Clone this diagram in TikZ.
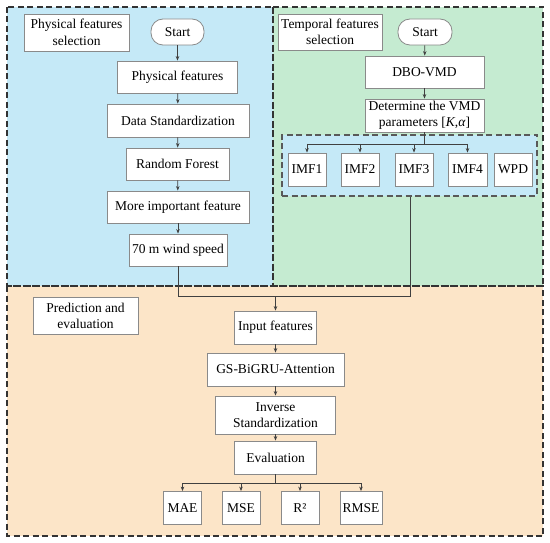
\documentclass[tikz,border=0pt]{standalone}
\usepackage{fontspec}
\setmainfont{Liberation Serif}
\usetikzlibrary{arrows.meta}
\definecolor{bluebg}{HTML}{C5E9F7}
\definecolor{greenbg}{HTML}{C5EBD1}
\definecolor{orangebg}{HTML}{FCE5C8}
\definecolor{boxline}{HTML}{8A8A8A}
\definecolor{conn}{HTML}{404040}
\tikzset{
  box/.style={draw=boxline, fill=white, line width=0.8pt, inner sep=1pt, align=center,
    font=\fontsize{13.5}{16.5}\selectfont},
  startbox/.style={box, rounded corners=12pt},
  region/.style={draw=black!80, dash pattern=on 6pt off 3.5pt, line width=1.1pt},
  innerregion/.style={draw=black!65, fill=bluebg, dash pattern=on 6pt off 3.5pt, line width=1.1pt, inner sep=0pt},
  cline/.style={draw=conn, line width=0.7pt},
  arr/.style={cline, -{Stealth[length=4.5pt,width=3.5pt]}}
}
\begin{document}
\begin{tikzpicture}[x=1pt,y=-1pt]
\useasboundingbox (0,0) rectangle (550,543);
% region fills
\fill[bluebg] (7,7) rectangle (273,286);
\fill[greenbg] (273,7) rectangle (543,286);
\fill[orangebg] (7,286) rectangle (543,536);
\draw[region] (7,7) rectangle (273,286);
\draw[region] (273,7) rectangle (543,286);
\draw[region] (7,286) rectangle (543,536);

% physical features
\node[box, minimum width=105pt, minimum height=37pt] (pfs) at (76.5,32.5) {Physical features\\selection};
\node[startbox, minimum width=53pt, minimum height=26pt] (startA) at (177.5,32) {Start};
\node[box, minimum width=120pt, minimum height=32pt] (pf) at (177.5,77) {Physical features};
\node[box, minimum width=142pt, minimum height=33pt] (ds) at (178,120.5) {Data Standardization};
\node[box, minimum width=103pt, minimum height=32pt] (rf) at (177.5,164) {Random Forest};
\node[box, minimum width=142pt, minimum height=32pt] (mif) at (178,207) {More important feature};
\node[box, minimum width=98pt, minimum height=32pt] (ws) at (178,250) {70 m wind speed};

\draw[arr] (startA) -- (pf);
\draw[arr] (pf) -- (ds);
\draw[arr] (ds) -- (rf);
\draw[arr] (rf) -- (mif);
\draw[arr] (mif) -- (ws);

% temporal features
\node[box, minimum width=104pt, minimum height=36pt] (tfs) at (330,32) {Temporal features\\selection};
\node[startbox, minimum width=54pt, minimum height=26pt] (startB) at (425,32) {Start};
\node[box, minimum width=119pt, minimum height=32pt] (dbo) at (424.5,72) {DBO-VMD};
\node[box, minimum width=119pt, minimum height=33pt] (det) at (424.5,115.5) {Determine the VMD\\parameters [\textit{K},\textit{α}]};
\node[innerregion, minimum width=255pt, minimum height=61pt] (inner) at (409.5,165.5) {};
\node[box, minimum width=38pt, minimum height=33pt] (imf1) at (307,169.5) {IMF1};
\node[box, minimum width=38pt, minimum height=33pt] (imf2) at (360,169.5) {IMF2};
\node[box, minimum width=38pt, minimum height=33pt] (imf3) at (414,169.5) {IMF3};
\node[box, minimum width=39pt, minimum height=33pt] (imf4) at (467.5,169.5) {IMF4};
\node[box, minimum width=38pt, minimum height=33pt] (wpd) at (513,169.5) {WPD};

\draw[arr] (startB) -- (dbo);
\draw[arr] (dbo) -- (det);
\coordinate (tb) at (424.5,144);
\draw[cline] (det.south) -- (tb);
\draw[cline] (imf1.north |- tb) -- (imf4.north |- tb);
\draw[arr] (imf1.north |- tb) -- (imf1);
\draw[arr] (imf2.north |- tb) -- (imf2);
\draw[arr] (imf3.north |- tb) -- (imf3);
\draw[arr] (imf4.north |- tb) -- (imf4);

% prediction and evaluation
\node[box, minimum width=105pt, minimum height=37pt] (pe) at (85.5,316) {Prediction and\\evaluation};
\node[box, minimum width=82pt, minimum height=33pt] (inp) at (275.5,327.5) {Input features};
\node[box, minimum width=137pt, minimum height=33pt] (gs) at (275.5,369.5) {GS-BiGRU-Attention};
\node[box, minimum width=120pt, minimum height=38pt] (inv) at (275.5,415) {Inverse\\Standardization};
\node[box, minimum width=82pt, minimum height=33pt] (ev) at (275.5,457.5) {Evaluation};
\node[box, minimum width=38pt, minimum height=33pt] (mae) at (182.5,508) {MAE};
\node[box, minimum width=38pt, minimum height=33pt] (mse) at (241,508) {MSE};
\node[box, minimum width=38pt, minimum height=33pt] (r2) at (300,508) {R²};
\node[box, minimum width=42pt, minimum height=33pt] (rmse) at (361,508) {RMSE};

% merge connector
\coordinate (ml) at (178,296.5);
\coordinate (mr) at (410,296.5);
\draw[cline] (ws.south) -- (ml) -- (mr) -- (mr |- inner.south);
\draw[arr] (inp.north |- ml) -- (inp);

\draw[arr] (inp) -- (gs);
\draw[arr] (gs) -- (inv);
\draw[arr] (inv) -- (ev);
\coordinate (eb) at (275.5,483);
\draw[cline] (ev.south) -- (eb);
\draw[cline] (mae.north |- eb) -- (rmse.north |- eb);
\draw[arr] (mae.north |- eb) -- (mae);
\draw[arr] (mse.north |- eb) -- (mse);
\draw[arr] (r2.north |- eb) -- (r2);
\draw[arr] (rmse.north |- eb) -- (rmse);
\end{tikzpicture}
\end{document}
